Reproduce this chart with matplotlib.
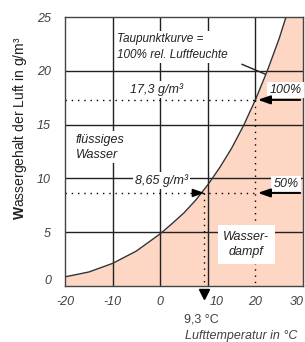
import matplotlib
matplotlib.use('Agg')
import matplotlib.pyplot as plt
from matplotlib.transforms import ScaledTranslation

# saturation curve (Taupunktkurve)
temp = [-20, -15, -10, -5, 0, 2.5, 5, 7.5, 10, 12.5, 15, 17.5, 20, 22.5, 25, 27.5, 30]
water = [0.85, 1.3, 2.1, 3.25, 4.85, 5.8, 6.8, 8.0, 9.4, 11.0, 12.8, 14.9, 17.3, 20.0, 23.0, 26.5, 30.4]

x_ticks = [-20, -10, 0, 10, 20, 30]
y_ticks = [0, 5, 10, 15, 20, 25]

air_temp = 20.0       # Lufttemperatur
sat_value = 17.3      # Saettigung bei 20 C
actual_value = 8.65   # 50% rel. Feuchte
dew_point = 9.3       # Taupunkt

plt.rcParams['font.family'] = ['Liberation Sans', 'DejaVu Sans']
plt.rcParams['mathtext.fontset'] = 'custom'
plt.rcParams['mathtext.rm'] = 'Liberation Sans'
plt.rcParams['mathtext.bf'] = 'Liberation Sans:bold'

fig = plt.figure(figsize=(3.05, 3.42), dpi=100)
ax = fig.add_axes([65/305, 1-286/342, 238/305, 269/342])
ax.set_xlim(-20, 30)
ax.set_ylim(0, 25)

peach = '#fdd6c4'
ax.fill_between(temp, water, 0, color=peach, lw=0, zorder=0.5)

# grid
for xv in x_ticks[1:-2]:
    ax.axvline(xv, color='#222222', lw=1, zorder=1)
ax.plot([air_temp, air_temp], [sat_value, 25], color='#222222', lw=1, zorder=1)
for yv in y_ticks[1:-1]:
    ax.axhline(yv, color='#222222', lw=1, zorder=1)

ax.plot(temp, water, color='#333333', lw=1, zorder=2)

dots = (0, (1, 3.5))
ax.plot([-20, air_temp], [sat_value, sat_value], color='k', lw=1, ls=dots, zorder=2)
ax.plot([-20, air_temp], [actual_value, actual_value], color='k', lw=1, ls=dots, zorder=2)
ax.plot([air_temp, air_temp], [sat_value, 0], color='k', lw=1, ls=dots, zorder=2)
ax.plot([dew_point, dew_point], [actual_value, 0], color='k', lw=1, ls=dots, zorder=2)

head = '-|>,head_length=0.72,head_width=0.25'
ax.annotate('', xy=(20.5, sat_value), xytext=(29.4, sat_value),
            arrowprops=dict(arrowstyle=head, color='k', lw=1.5, mutation_scale=10,
                            shrinkA=0, shrinkB=0), zorder=4)
ax.annotate('', xy=(20.5, actual_value), xytext=(29.4, actual_value),
            arrowprops=dict(arrowstyle=head, color='k', lw=1.5, mutation_scale=10,
                            shrinkA=0, shrinkB=0), zorder=4)
ax.annotate('', xy=(dew_point, actual_value), xytext=(7.0, actual_value),
            arrowprops=dict(arrowstyle=head, color='k', lw=1, mutation_scale=10,
                            shrinkA=0, shrinkB=0), zorder=4)

# leader line to the curve
ax.plot([17.2, 22.0], [20.6, 19.7], color='#222222', lw=1, zorder=3.5)

box = dict(facecolor='white', edgecolor='none', pad=1.5)
tcol = '#222222'
ax.text(-9.0, 22.2, 'Taupunktkurve =\n100% rel. Luftfeuchte', style='italic', fontsize=8.5,
        color=tcol, ha='left', va='center', linespacing=1.4, bbox=box, zorder=3)
ax.text(-0.7, 18.3, '17,3 g/m³', style='italic', fontsize=9, color=tcol,
        ha='center', va='center', bbox=box, zorder=3)
ax.text(26.3, 18.2, '100%', style='italic', fontsize=9, color=tcol,
        ha='center', va='center', bbox=box, zorder=3)
ax.text(-17.8, 12.9, 'flüssiges\nWasser', style='italic', fontsize=9, color=tcol,
        ha='left', va='center', linespacing=1.35, bbox=box, zorder=3)
ax.text(0.2, 9.8, '8,65 g/m³', style='italic', fontsize=9, color=tcol,
        ha='center', va='center', bbox=box, zorder=3)
ax.text(26.4, 9.5, '50%', style='italic', fontsize=9, color=tcol,
        ha='center', va='center', bbox=box, zorder=3)
ax.text(18.1, 3.85, 'Wasser-\ndampf', style='italic', fontsize=9, color=tcol,
        ha='center', va='center', linespacing=1.35,
        bbox=dict(facecolor='white', edgecolor='none', pad=4), zorder=3)

ax.plot([dew_point], [-0.7], marker='v', color='k', ms=7, clip_on=False, zorder=5)

for sp in ax.spines.values():
    sp.set_color('#444444')
    sp.set_linewidth(1)

ax.set_xticks(x_ticks)
ax.set_yticks(y_ticks)
ax.set_xticklabels([str(v) for v in x_ticks])
ax.set_yticklabels([str(v) for v in y_ticks])
ax.tick_params(length=0, labelsize=9, labelcolor='#404040')
ax.tick_params(axis='x', pad=7)
ax.tick_params(axis='y', pad=10)
for lab in ax.get_xticklabels() + ax.get_yticklabels():
    lab.set_style('italic')
xl = ax.get_xticklabels()
xl[3].set_transform(xl[3].get_transform() + ScaledTranslation(9/100, 0, fig.dpi_scale_trans))
xl[-1].set_transform(xl[-1].get_transform() + ScaledTranslation(-6/100, 0, fig.dpi_scale_trans))
yl = ax.get_yticklabels()
yl[0].set_transform(yl[0].get_transform() + ScaledTranslation(0, 7/100, fig.dpi_scale_trans))

fig.text(201/305, 1-320/342, '9,3 °C', fontsize=9, color='#404040', ha='center', va='center')
fig.text(185/305, 1-336/342, 'Lufttemperatur in °C', fontsize=9, style='italic',
         color='#404040', ha='left', va='center')
fig.text(20/305, 1-128/342, r'$\mathbf{W}$assergehalt der Luft in g/m³', fontsize=10,
         color='#202020', rotation=90, ha='center', va='center')

fig.savefig('out.png', dpi=100)
